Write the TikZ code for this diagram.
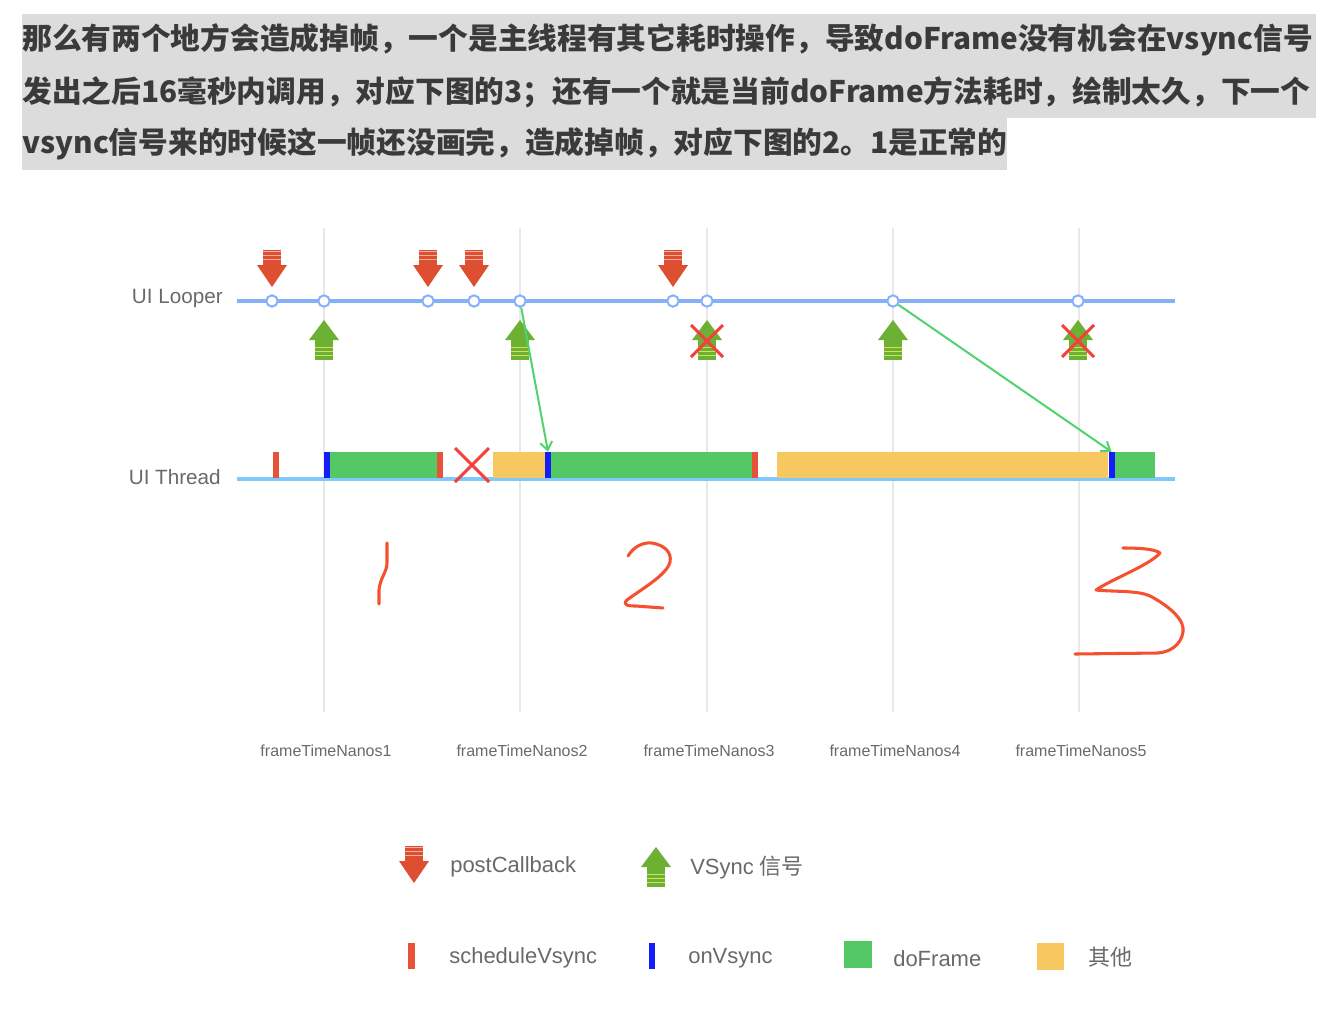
\documentclass[tikz,border=0pt]{standalone}
\usepackage{fontspec}
\setmainfont{Liberation Sans}
\newfontfamily\cjk{Noto Sans CJK SC}
\usetikzlibrary{calc,arrows.meta}
\definecolor{hlgray}{RGB}{220,220,220}
\definecolor{txtgray}{RGB}{58,58,58}
\definecolor{labgray}{RGB}{105,105,105}
\definecolor{gridgray}{RGB}{232,232,232}
\definecolor{looperblue}{RGB}{134,176,248}
\definecolor{threadblue}{RGB}{126,200,250}
\definecolor{postred}{RGB}{222,78,48}
\definecolor{vsyncgreen}{RGB}{108,176,52}
\definecolor{framegreen}{RGB}{84,200,100}
\definecolor{otheryellow}{RGB}{248,200,96}
\definecolor{schedred}{RGB}{232,82,56}
\definecolor{onblue}{RGB}{20,30,250}
\definecolor{crossred}{RGB}{242,64,60}
\definecolor{inkred}{RGB}{245,80,47}
\definecolor{linkgreen}{RGB}{80,210,110}

\begin{document}
\begin{tikzpicture}[x=0.75pt, y=-0.75pt,
		titleline/.style=	{anchor=north west, fill=hlgray, inner xsep=0pt, inner ysep=0pt, minimum height=39pt, text=txtgray, font=\cjk\bfseries\fontsize{22.3}{27}\selectfont},
		rowlabel/.style=	{anchor=east, inner sep=0pt, text=labgray, font=\fontsize{15.5}{18}\selectfont},
		framelabel/.style=	{inner sep=0pt, text=labgray, font=\fontsize{12}{14}\selectfont},
		legendlabel/.style=	{anchor=west, inner sep=0pt, text=labgray, font=\fontsize{16.5}{20}\selectfont},
		loopdot/.style=		{circle, draw=looperblue, fill=white, line width=1.5pt, minimum size=8.5pt, inner sep=0pt},
		ontick/.style=		{fill=onblue, inner sep=0pt, minimum width=4.5pt, minimum height=19.5pt},
		gridline/.style=	{draw=gridgray, line width=0.8pt},
		timeline/.style=	{line width=2.4pt},
		crossmark/.style=	{draw=crossred, line width=2.2pt},
		ink/.style=			{draw=inkred, line width=2.3pt, line cap=round, line join=round},
		link/.style=		{draw=linkgreen, line width=1.5pt, -{Straight Barb[length=6pt,width=9pt]}},
		postarrow/.pic=		{\fill[postred] (-15,-22) -- (15,-22) -- (0,0) -- cycle;
							 \fill[postred] (-9,-37) rectangle (9,-21);
							 \foreach \s in {-35.5,-31.5,-27.5}
								\draw[white, opacity=0.55, line width=1.1pt] (-9,\s) -- (9,\s);},
		vsyncarrow/.pic=	{\fill[vsyncgreen] (-15,20) -- (15,20) -- (0,0) -- cycle;
							 \fill[vsyncgreen] (-9,19) rectangle (9,40);
							 \foreach \s in {27.5,31.5,35.5}
								\draw[yellow!60!white, opacity=0.7, line width=1.1pt] (-9,\s) -- (9,\s);}]
	\useasboundingbox (0,0) rectangle (1324,1022);

	% text block above the picture
	\node[titleline] (t1) at (22,14) {\makebox[970.5pt][l]{那么有两个地方会造成掉帧，一个是主线程有其它耗时操作，导致doFrame没有机会在vsync信号}};
	\node[titleline] (t2) at (22,66) {\makebox[970.5pt][l]{发出之后16毫秒内调用，对应下图的3；还有一个就是当前doFrame方法耗时，绘制太久，下一个}};
	\node[titleline] (t3) at (22,118) {vsync信号来的时候这一帧还没画完，造成掉帧，对应下图的2。1是正常的};

	% frame grid
	\foreach \x/\n in {324/1,520/2,707/3,893/4,1079/5} {
		\draw[gridline] (\x,228) -- (\x,712);
		\node[framelabel] (f\n) at (\x+2,751) {frameTimeNanos\n};
	}

	% the two rows
	\node[rowlabel] (looper) at (223,299) {UI Looper};
	\node[rowlabel] (thread) at (221,477) {UI Thread};
	\draw[timeline, draw=looperblue] (237,301) -- (1175,301);
	\draw[timeline, draw=threadblue] (237,479) -- (1175,479);

	\foreach \x [count=\i] in {272,324,428,474,520,673,707,893,1078}
		\node[loopdot] (l\i) at (\x,301) {};

	% postCallback and vsync markers
	\foreach \i in {1,3,4,6}
		\path (l\i) ++(0,-14) pic {postarrow};
	\foreach \i in {2,5,7,8,9}
		\path (l\i) ++(0,19) pic {vsyncarrow};
	\foreach \i in {7,9} {
		\draw[crossmark] ($(l\i)+(-16,24)$) -- ($(l\i)+(16,56)$);
		\draw[crossmark] ($(l\i)+(16,24)$) -- ($(l\i)+(-16,56)$);
	}

	% UI thread work
	\fill[schedred] (273,452) rectangle (279,478);
	\fill[framegreen] (330,452) rectangle (437,478);
	\fill[schedred] (437,452) rectangle (443,478);
	\fill[otheryellow] (493,452) rectangle (545,478);
	\fill[framegreen] (551,452) rectangle (752,478);
	\fill[schedred] (752,452) rectangle (758,478);
	\fill[otheryellow] (777,452) rectangle (1108,478);
	\fill[framegreen] (1115,452) rectangle (1155,478);
	\node[ontick] (on1) at (327,465) {};
	\node[ontick] (on2) at (548,465) {};
	\node[ontick] (on3) at (1111.5,465) {};
	\draw[crossmark] (455,448) -- (489,482);
	\draw[crossmark] (489,448) -- (455,482);

	\draw[link] (l5) -- (on2.north);
	\draw[link] (l8) -- (on3.north);

	% handwritten numbers
	\draw[ink] (387,543) -- (387,563) .. controls (387,572) and (380,578) .. (379,590) -- (379,604);
	\draw[ink] (628,556) .. controls (634,546) and (644,542) .. (652,543) .. controls (664,545) and (672,552) .. (670,562) .. controls (667,575) and (640,590) .. (627,600) .. controls (622,605) and (628,606) .. (636,606) -- (663,608);
	\draw[ink] (1123,548) .. controls (1140,548) and (1155,549) .. (1160,553) .. controls (1150,565) and (1110,580) .. (1096,590) .. controls (1115,592) and (1140,590) .. (1152,597) .. controls (1170,607) and (1185,620) .. (1183,632) .. controls (1181,645) and (1170,652) .. (1158,653) -- (1075,654);

	% legend
	\coordinate (kpost) at (414,883);
	\coordinate (kvsync) at (656,847);
	\path (kpost) pic {postarrow};
	\path (kvsync) pic {vsyncarrow};
	\node[legendlabel] (lpost) at (450,867) {postCallback};
	\node[legendlabel] (lvsync) at (690,868) {VSync {\cjk 信号}};
	\fill[schedred] (408,943) rectangle (415,969);
	\node[legendlabel] (lsched) at (449,958) {scheduleVsync};
	\node[ontick, minimum height=20pt] (kon) at (652,956) {};
	\node[legendlabel] (lon) at (688,958) {onVsync};
	\fill[framegreen] (844,941) rectangle (872,968);
	\node[legendlabel] (lframe) at (893,959) {doFrame};
	\fill[otheryellow] (1037,943) rectangle (1064,970);
	\node[legendlabel] (lother) at (1088,957) {\cjk 其他};
\end{tikzpicture}
\end{document}
